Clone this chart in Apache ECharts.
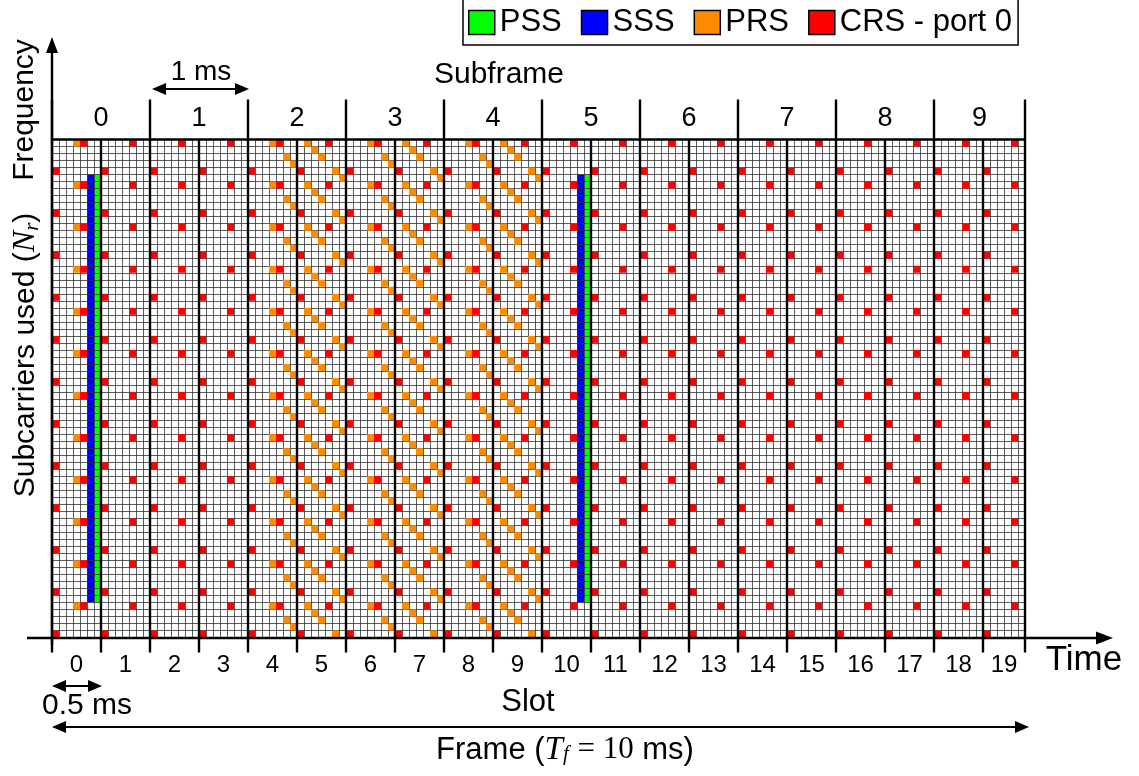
<!DOCTYPE html>
<html>
<head>
<meta charset="utf-8">
<script src="https://cdn.jsdelivr.net/npm/echarts@6/dist/echarts.min.js"></script>
<style>
html,body{margin:0;padding:0;background:#fff;}
#chart{width:1139px;height:776px;}
</style>
</head>
<body>
<div id="chart"></div>
<script>
// ---------- data ----------
const ROWS = 71;                 // subcarrier rows drawn
const COLS = 139;                // OFDM symbol columns drawn
const SYM_PER_SLOT = 7;
const RS_PERIOD = 6;             // reference-signal repetition in subcarriers
const slotLabels = ['0','1','2','3','4','5','6','7','8','9','10','11','12','13','14','15','16','17','18','19'];
const subframeLabels = ['0','1','2','3','4','5','6','7','8','9'];
// CRS port 0: [symbol in slot, first row]
const crsPattern = [[0, 4], [4, 0]];
// PRS: [symbol in slot, first row]
const prsEvenSlotPattern = [[3, 0], [5, 2], [6, 3]];
const prsOddSlotPattern = [[1, 0], [2, 1], [3, 2], [5, 4], [6, 5]];
const prsSlots = [4, 5, 6, 7, 8, 9];
const extraPrs = [[0, 3, 0]];    // [slot, symbol, first row]
const syncSlots = [0, 10];
const sssSymbol = 5;
const pssSymbol = 6;
const syncRows = [5, 65];        // first / last row

// ---------- build cells ----------
function slotStart(s){ return s * SYM_PER_SLOT; }
const crsCells = [], prsCells = [];
slotLabels.forEach((_, s) => {
  crsPattern.forEach(([sym, r0]) => {
    for (let r = r0; r < ROWS; r += RS_PERIOD) crsCells.push([slotStart(s) + sym, r]);
  });
});
prsSlots.forEach(s => {
  const pat = (s % 2 === 0) ? prsEvenSlotPattern : prsOddSlotPattern;
  pat.forEach(([sym, r0]) => {
    for (let r = r0; r < ROWS; r += RS_PERIOD) prsCells.push([slotStart(s) + sym, r]);
  });
});
extraPrs.forEach(([s, sym, r0]) => {
  for (let r = r0; r < ROWS; r += RS_PERIOD) prsCells.push([slotStart(s) + sym, r]);
});
const pssCells = syncSlots.map(s => [slotStart(s) + pssSymbol, syncRows[0], syncRows[1]]);
const sssCells = syncSlots.map(s => [slotStart(s) + sssSymbol, syncRows[0], syncRows[1]]);
const slotBounds = slotLabels.map((_, s) => Math.min(slotStart(s), COLS)).concat([COLS]);

const FONT = 'Liberation Sans';
const MATH = 'Liberation Serif';

function cellRender(params, api){
  const x = api.value(0), y = api.value(1);
  const p0 = api.coord([x, y]), p1 = api.coord([x + 1, y + 1]);
  return {type:'rect', shape:{x:p0[0], y:p0[1], width:p1[0]-p0[0], height:p1[1]-p0[1]},
          style:{fill: api.visual('color')}};
}
function syncRender(params, api){
  const x = api.value(0), y0 = api.value(1), y1 = api.value(2);
  const p0 = api.coord([x, y0]), p1 = api.coord([x + 1, y1 + 1]);
  return {type:'rect', shape:{x:p0[0], y:p0[1], width:p1[0]-p0[0], height:p1[1]-p0[1]},
          style:{fill: api.visual('color')}};
}

const chart = echarts.init(document.getElementById('chart'));
const option = {
  animation: false,
  backgroundColor: '#fff',
  grid: {left: 52, top: 139.5, width: 973, height: 498},
  legend: {
    left: 463, top: -2, padding: [9, 6, 7, 5],
    itemWidth: 26, itemHeight: 24, itemGap: 19, icon: 'rect',
    borderColor: '#000', borderWidth: 1.5, selectedMode: false,
    itemStyle: {borderColor: '#000', borderWidth: 1.5},
    textStyle: {fontSize: 31, fontFamily: FONT, color: '#000'},
    data: ['PSS', 'SSS', 'PRS', 'CRS - port 0']
  },
  xAxis: {type:'value', min:0, max:COLS, interval:1, z:10,
    axisLine:{show:false}, axisTick:{show:false}, axisLabel:{show:false},
    splitLine:{show:true, lineStyle:{color:'#333', width:0.8}}},
  yAxis: {type:'value', min:0, max:ROWS, interval:1, inverse:true, z:10,
    axisLine:{show:false}, axisTick:{show:false}, axisLabel:{show:false},
    splitLine:{show:true, lineStyle:{color:'#333', width:0.8}}},
  series: [
    {name:'PSS', type:'custom', itemStyle:{color:'#00ff00'}, data: pssCells, renderItem: syncRender, z:2},
    {name:'SSS', type:'custom', itemStyle:{color:'#0000ff'}, data: sssCells, renderItem: syncRender, z:2},
    {name:'PRS', type:'custom', itemStyle:{color:'#ff8c00'}, data: prsCells, renderItem: cellRender, z:15},
    {name:'CRS - port 0', type:'custom', itemStyle:{color:'#ff0000'}, data: crsCells, renderItem: cellRender, z:15},
    {name:'slotLines', type:'custom', z:20, silent:true,
      data: slotBounds.map((b, i) => [b, i]),
      renderItem(params, api){
        const x = api.value(0), i = api.value(1);
        const top = api.coord([x, 0]), bot = api.coord([x, ROWS]);
        const isSub = (i % 2 === 0);
        return {type:'line', shape:{x1:top[0], y1: isSub ? top[1]-40 : top[1], x2:bot[0], y2:bot[1]+15},
                style:{stroke:'#000', lineWidth:2.4}};
      }},
    {name:'topLine', type:'custom', z:20, silent:true, data:[[0]],
      renderItem(params, api){
        const a = api.coord([0, 0]), b = api.coord([COLS, 0]);
        return {type:'line', shape:{x1:a[0]-1, y1:a[1], x2:b[0]+1, y2:b[1]}, style:{stroke:'#000', lineWidth:2.4}};
      }},
    {name:'subframeLabels', type:'custom', z:20, silent:true,
      data: subframeLabels.map((l, i) => [(slotBounds[2*i] + slotBounds[2*i+2]) / 2, l]),
      dimensions: ['x', 'label'],
      renderItem(params, api){
        const p = api.coord([api.value(0), 0]);
        return {type:'text', x:p[0], y:p[1]-21,
          style:{text: subframeLabels[params.dataIndex], fontSize:27, fontFamily:FONT, fill:'#000', align:'center', verticalAlign:'middle'}};
      }},
    {name:'slotLabels', type:'custom', z:20, silent:true,
      data: slotLabels.map((l, i) => [(slotBounds[i] + slotBounds[i+1]) / 2, l]),
      dimensions: ['x', 'label'],
      renderItem(params, api){
        const p = api.coord([api.value(0), ROWS]);
        return {type:'text', x:p[0], y:p[1]+28,
          style:{text: slotLabels[params.dataIndex], fontSize:24, fontFamily:FONT, fill:'#000', align:'center', verticalAlign:'middle'}};
      }}
  ]
};

// ---------- decorations (arrows, titles) ----------
function head(tx, ty, dir, len, hw){
  if (dir === 'r') return [[tx, ty], [tx-len, ty-hw], [tx-len, ty+hw]];
  if (dir === 'l') return [[tx, ty], [tx+len, ty-hw], [tx+len, ty+hw]];
  return [[tx, ty], [tx-hw, ty+len], [tx+hw, ty+len]];
}
function dblArrow(x1, x2, y, w){
  return [
    {type:'line', shape:{x1:x1+6, y1:y, x2:x2-6, y2:y}, style:{stroke:'#000', lineWidth:w}},
    {type:'polygon', shape:{points: head(x1, y, 'l', 14, 6)}, style:{fill:'#000'}},
    {type:'polygon', shape:{points: head(x2, y, 'r', 14, 6)}, style:{fill:'#000'}}
  ];
}
const txt = (x, y, text, size) => ({type:'text', x, y,
  style:{text, fontSize:size, fontFamily:FONT, fill:'#000', align:'center', verticalAlign:'middle'}});

option.graphic = [].concat(
  [
    {type:'line', shape:{x1:52, y1:645, x2:52, y2:50}, style:{stroke:'#000', lineWidth:2.4}, z:30},
    {type:'polygon', shape:{points: head(52, 37, 'u', 16, 6)}, style:{fill:'#000'}, z:30},
    {type:'line', shape:{x1:27, y1:638, x2:1100, y2:638}, style:{stroke:'#000', lineWidth:2.4}, z:30},
    {type:'polygon', shape:{points: head(1113, 638, 'r', 17, 6.5)}, style:{fill:'#000'}, z:30}
  ],
  dblArrow(152, 249, 89, 2),
  dblArrow(52, 102, 686, 2),
  dblArrow(52, 1029, 727, 2),
  [
    txt(201, 72, '1 ms', 28),
    txt(499, 75, 'Subframe', 30),
    txt(1084, 660, 'Time', 35),
    txt(528, 702, 'Slot', 31),
    txt(87, 706, '0.5 ms', 30),
    {type:'text', x:565, y:750, style:{
      text:'Frame ({m|T}{s|f} {e|= 10} ms)', fontSize:31, fontFamily:FONT, fill:'#000', align:'center', verticalAlign:'middle',
      rich:{m:{fontSize:33, fontFamily:MATH, fontStyle:'italic'},
            s:{fontSize:21, fontFamily:MATH, fontStyle:'italic', padding:[9,0,0,0]},
            e:{fontSize:31, fontFamily:MATH}}}},
    {type:'text', x:25, y:110, rotation:Math.PI/2, style:{text:'Frequency', fontSize:30, fontFamily:FONT, fill:'#000', align:'center', verticalAlign:'middle'}},
    {type:'text', x:26, y:355, rotation:Math.PI/2, style:{
      text:'Subcarriers used ({n|N}{s|r})', fontSize:30, fontFamily:FONT, fill:'#000', align:'center', verticalAlign:'middle',
      rich:{n:{fontSize:32, fontFamily:MATH, fontStyle:'italic'},
            s:{fontSize:21, fontFamily:MATH, fontStyle:'italic', padding:[12,0,0,0]}}}}
  ]
);

chart.setOption(option);
</script>
</body>
</html>
